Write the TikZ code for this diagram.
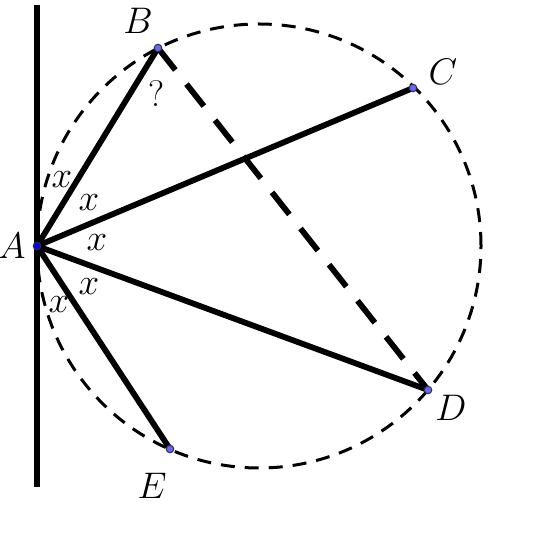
\documentclass[tikz,border=0pt]{standalone}
\usepackage{fix-cm}
\usetikzlibrary{arrows.meta}

\definecolor{ptblue}{RGB}{100,100,255}

\begin{document}
\begin{tikzpicture}[x=0.5pt,y=-0.5pt]
\useasboundingbox (0,0) rectangle (560,560);

\begin{scope}[every node/.style={font=\fontsize{18.5}{21}\selectfont}]
    \coordinate (A) at (37,246);
    \coordinate (B) at (158,48);
    \coordinate (C) at (413,88);
    \coordinate (D) at (428,390);
    \coordinate (E) at (170,449);
    \coordinate (O) at (259,246);
    \coordinate (ttop) at (37,5);
    \coordinate (tbot) at (37,487);

    \node (Alabel) at (12,246) {$A$};
    \node (Blabel) at (138,21) {$B$};
    \node (Clabel) at (443,72) {$C$};
    \node (Dlabel) at (451,408) {$D$};
    \node (Elabel) at (152,486) {$E$};

    \node (x1) at (62,180) {$x$};
    \node (x2) at (89,203) {$x$};
    \node (x3) at (97,243) {$x$};
    \node (x4) at (89,287) {$x$};
    \node (x5) at (59,305) {$x$};
    \node (ask) at (157,94) {?};
\end{scope}

\draw [dashed, dash pattern=on 7pt off 5pt, line width=1.5pt] (O) circle [radius=111pt];

\begin{scope}[every path/.style={line width=2.9pt}]
    \draw (ttop) -- (tbot);
    \draw (A) -- (B);
    \draw (A) -- (C);
    \draw (A) -- (D);
    \draw (A) -- (E);
    \draw [dash pattern=on 14pt off 9pt] (B) -- (D);
\end{scope}

\begin{scope}[every node/.style={circle,inner sep=0pt,minimum size=3.8pt,draw=black!80,line width=0.5pt,fill=ptblue}]
    \node (Bpt) at (B) {};
    \node (Cpt) at (C) {};
    \node (Dpt) at (D) {};
    \node (Ept) at (E) {};
    \node (Apt) at (A) [fill=blue] {};
\end{scope}
\end{tikzpicture}
\end{document}
